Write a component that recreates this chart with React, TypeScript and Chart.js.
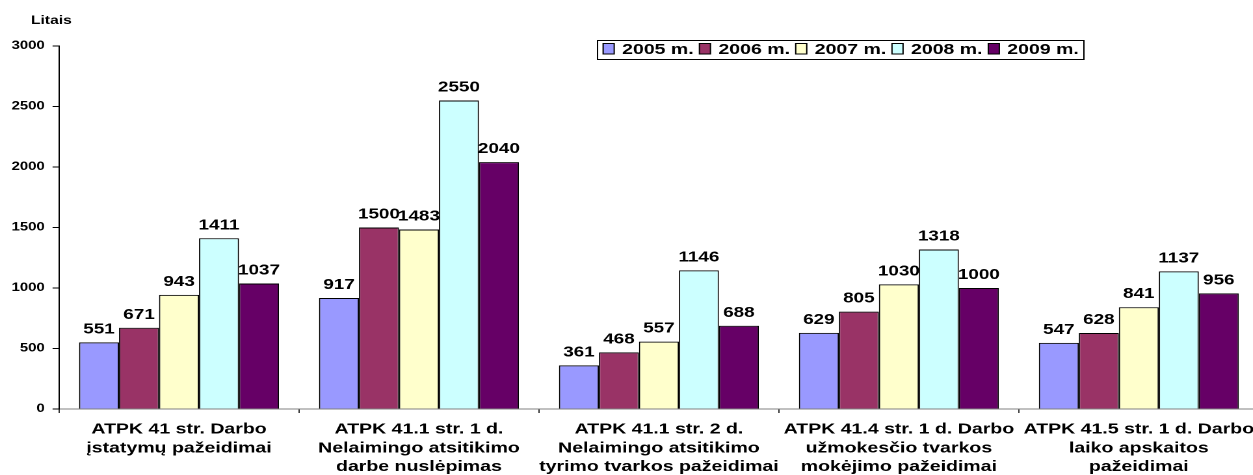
import React, { useEffect, useRef } from "react";
import { Chart, registerables } from "chart.js";

Chart.register(...registerables);

// ---- data ----
const categories: string[][] = [
  ["ATPK 41 str. Darbo", "įstatymų pažeidimai"],
  ["ATPK 41.1 str. 1 d.", "Nelaimingo atsitikimo", "darbe nuslėpimas"],
  ["ATPK 41.1 str. 2 d.", "Nelaimingo atsitikimo", "tyrimo tvarkos pažeidimai"],
  ["ATPK 41.4 str. 1 d. Darbo", "užmokesčio tvarkos", "mokėjimo pažeidimai"],
  ["ATPK 41.5 str. 1 d. Darbo", "laiko apskaitos", "pažeidimai"],
];
const seriesNames = ["2005 m.", "2006 m.", "2007 m.", "2008 m.", "2009 m."];
const values2005 = [551, 917, 361, 629, 547];
const values2006 = [671, 1500, 468, 805, 628];
const values2007 = [943, 1483, 557, 1030, 841];
const values2008 = [1411, 2550, 1146, 1318, 1137];
const values2009 = [1037, 2040, 688, 1000, 956];
const seriesValues = [values2005, values2006, values2007, values2008, values2009];
const seriesColors = ["#9999FF", "#993366", "#FFFFCC", "#CCFFFF", "#660066"];
const yMin = 0;
const yMax = 3000;
const yStep = 500;
const yTitle = "Litais";

// ---- layout ----
const FF = '"Liberation Sans", Arial, Helvetica, sans-serif';
const SX = 1.3; // horizontal stretch of the original picture
const W = 972;
const H = 475;

const overlayPlugin = {
  id: "overlay",
  afterDatasetsDraw(chart: any) {
    const ctx = chart.ctx as CanvasRenderingContext2D;
    ctx.save();
    // value labels
    ctx.font = `bold 14.5px ${FF}`;
    ctx.fillStyle = "#000";
    ctx.textAlign = "center";
    ctx.textBaseline = "alphabetic";
    chart.data.datasets.forEach((ds: any, di: number) => {
      const meta = chart.getDatasetMeta(di);
      meta.data.forEach((el: any, i: number) => {
        ctx.fillText(String(ds.data[i]), el.x, el.y - 9);
      });
    });

    // y title
    ctx.font = `bold 12px ${FF}`;
    ctx.textAlign = "left";
    ctx.fillText(yTitle, 23.8, 24);

    // legend
    const bx = 459.5;
    const by = 40.5;
    const bw = 374;
    const bh = 19;
    ctx.fillStyle = "#fff";
    ctx.fillRect(bx, by, bw, bh);
    ctx.strokeStyle = "#000";
    ctx.lineWidth = 1;
    ctx.strokeRect(bx, by, bw, bh);
    ctx.font = `bold 15px ${FF}`;
    ctx.textBaseline = "alphabetic";
    chart.data.datasets.forEach((ds: any, i: number) => {
      const sx = 463.8 + i * 74.04;
      ctx.fillStyle = ds.backgroundColor;
      ctx.fillRect(sx, 43.5, 8.5, 10.5);
      ctx.strokeStyle = "#000";
      ctx.strokeRect(sx, 43.5, 8.5, 10.5);
      ctx.fillStyle = "#000";
      ctx.fillText(ds.label, sx + 14.6, 54);
    });
    ctx.restore();
  },
};

export default function App() {
  const ref = useRef<HTMLCanvasElement | null>(null);

  useEffect(() => {
    if (!ref.current) return;
    const chart = new Chart(ref.current, {
      type: "bar",
      data: {
        labels: categories,
        datasets: seriesNames.map((name, i) => ({
          label: name,
          data: seriesValues[i],
          backgroundColor: seriesColors[i],
          borderColor: "#000",
          borderWidth: 1,
          categoryPercentage: 200 / 240,
          barPercentage: 1,
        })),
      },
      options: {
        responsive: false,
        animation: false,
        devicePixelRatio: 2,
        layout: { padding: { top: 46, left: 0, right: 4, bottom: 0 } },
        plugins: {
          legend: { display: false },
          tooltip: { enabled: false },
          title: { display: false },
        },
        scales: {
          x: {
            offset: true,
            grid: {
              offset: true,
              drawOnChartArea: false,
              drawTicks: true,
              tickLength: 4,
              color: "#333",
            },
            border: { display: true, color: "#808080", width: 1 },
            ticks: {
              autoSkip: false,
              maxRotation: 0,
              minRotation: 0,
              padding: 7,
              color: "#000",
              font: { family: FF, size: 15, weight: "bold", lineHeight: 1.25 },
            },
            afterFit: (scale: any) => {
              scale.height = 66;
            },
          },
          y: {
            min: yMin,
            max: yMax,
            ticks: {
              stepSize: yStep,
              padding: 6,
              color: "#000",
              font: { family: FF, size: 11.5, weight: "bold" },
              callback: (v: any) => String(v),
            },
            grid: {
              drawOnChartArea: false,
              drawTicks: true,
              tickLength: 5,
              color: "#000",
            },
            border: { display: true, color: "#000", width: 1 },
            afterFit: (scale: any) => {
              scale.width = 45.4;
            },
          },
        },
      },
      plugins: [overlayPlugin],
    } as any);
    return () => chart.destroy();
  }, []);

  return (
    <div
      style={{
        position: "fixed",
        left: 0,
        top: 0,
        width: 1253,
        height: 475,
        overflow: "hidden",
        background: "#fff",
      }}
    >
      <canvas
        ref={ref}
        width={W}
        height={H}
        style={{ display: "block", width: `${W * SX}px`, height: `${H}px` }}
      />
    </div>
  );
}
